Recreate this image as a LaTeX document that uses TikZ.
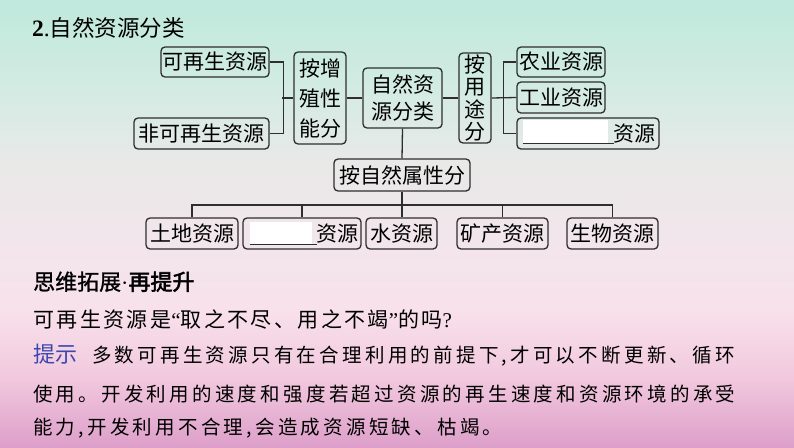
\documentclass[tikz,border=0pt]{standalone}
\usepackage{fontspec}
\newfontfamily\cjk{Noto Sans CJK SC}
\newfontfamily\cjkbold{Noto Sans CJK SC}[FakeBold=2.5]
\newfontfamily\cjkmid{Noto Sans CJK SC}[FakeBold=1]
\newfontfamily\cjkrowa{Noto Sans CJK SC}[LetterSpace=11.5]
\newfontfamily\cjkrowb{Noto Sans CJK SC}[LetterSpace=16.7]
\newfontfamily\lat{Liberation Serif}
\definecolor{lc}{HTML}{2E2E2E}
\definecolor{tipblue}{HTML}{3B47B0}
\definecolor{bgA}{HTML}{BFE9DC}
\definecolor{bgB}{HTML}{D3EBE3}
\definecolor{bgC}{HTML}{E8E9E8}
\definecolor{bgD}{HTML}{F1E6EB}
\definecolor{bgE}{HTML}{F8E1EB}
\definecolor{bgF}{HTML}{F1C7DD}
\definecolor{bgG}{HTML}{DD9FCA}
\tikzset{
  box/.style={draw=lc, line width=1.3pt, rounded corners=4pt, inner sep=0pt,
    align=center, font=\cjk\fontsize{21}{27}\selectfont},
  conn/.style={draw=lc, line width=1.3pt},
  blankfill/.style={fill=white, draw=none, inner sep=0pt},
  rowtext/.style={anchor=base west, inner sep=0pt, text=black}
}
\begin{document}
\begin{tikzpicture}[x=1pt,y=-1pt]
\useasboundingbox (0,0) rectangle (794,447);
% background
\shade[top color=bgA, bottom color=bgB] (0,0) rectangle (794,91);
\shade[top color=bgB, bottom color=bgC] (0,90) rectangle (794,161);
\shade[top color=bgC, bottom color=bgD] (0,160) rectangle (794,231);
\shade[top color=bgD, bottom color=bgE] (0,230) rectangle (794,311);
\shade[top color=bgE, bottom color=bgF] (0,310) rectangle (794,381);
\shade[top color=bgF, bottom color=bgG] (0,380) rectangle (794,447);

% title
\node[rowtext] (title) at (32,36.5) {{\lat\fontsize{23.5}{28}\selectfont\bfseries 2}{\lat\fontsize{23.5}{28}\selectfont .}{\cjk\fontsize{22.5}{28}\selectfont 自然资源分类}};

% boxes
\node[box, minimum width=108pt, minimum height=30pt] (renew) at (215,62) {可再生资源};
\node[box, minimum width=135pt, minimum height=31pt] (nonrenew) at (201.5,133.5) {非可再生资源};
\node[box, minimum width=52pt, minimum height=92pt, font=\cjk\fontsize{21}{30}\selectfont] (zengzhi) at (320,98) {按增\\殖性\\能分};
\node[box, minimum width=79pt, minimum height=60pt, font=\cjk\fontsize{21}{27}\selectfont] (root) at (402.5,98) {自然资\\源分类};
\node[box, minimum width=32pt, minimum height=90pt, font=\cjk\fontsize{21}{22.5}\selectfont] (yongtu) at (475,98) {按\\用\\途\\分};
\node[box, minimum width=88pt, minimum height=30pt] (agri) at (561,62) {农业资源};
\node[box, minimum width=88pt, minimum height=31pt] (indus) at (561,97.5) {工业资源};
\node[box, minimum width=142pt, minimum height=31pt] (blankA) at (588,133.5) {};
\node[box, minimum width=136pt, minimum height=32pt] (shuxing) at (402,175) {按自然属性分};
\node[box, minimum width=92pt, minimum height=31pt] (land) at (192,233.5) {土地资源};
\node[box, minimum width=118pt, minimum height=31pt] (blankB) at (302,233.5) {};
\node[box, minimum width=71pt, minimum height=31pt] (water) at (401.5,233.5) {水资源};
\node[box, minimum width=91pt, minimum height=31pt] (mineral) at (502.5,233.5) {矿产资源};
\node[box, minimum width=91pt, minimum height=31pt] (bio) at (612.5,233.5) {生物资源};

% blanks
\node[blankfill, minimum width=85pt, minimum height=23pt] (wA) at (565.5,131.5) {};
\draw[conn, line width=1pt] (wA.south west) -- ++(91,0);
\node[anchor=east, inner sep=0pt, font=\cjk\fontsize{21}{27}\selectfont] (tA) at ([xshift=-4pt]blankA.east) {资源};
\node[blankfill, minimum width=62pt, minimum height=23pt] (wB) at (281,233.5) {};
\draw[conn, line width=1pt] ([yshift=1pt]wB.south west) -- ++(67,0);
\node[anchor=east, inner sep=0pt, font=\cjk\fontsize{21}{27}\selectfont] (tB) at ([xshift=-3pt]blankB.east) {资源};

% connectors
\draw[conn] (renew.east) -- ++(14,0) |- (nonrenew.east);
\draw[conn] (zengzhi.west) -- ++(-11,0);
\draw[conn] (zengzhi.east) -- (root.west);
\draw[conn] (root.east) -- (yongtu.west);
\draw[conn] (agri.west) -- ++(-13,0) |- (blankA.west);
\draw[conn] (yongtu.east) -- (indus.west);
\draw[conn] (root.south) -- (shuxing.north);
\coordinate (bus) at (0,205);
\draw[conn] (shuxing.south) -- (shuxing.south |- water.north);
\draw[conn] (land.north) -- (land.north |- bus) -- (bio.north |- bus) -- (bio.north);
\draw[conn] (blankB.north) -- (blankB.north |- bus);
\draw[conn] (mineral.north) -- (mineral.north |- bus);

% text below
\node[rowtext] (head) at (33,290) {\fontsize{22}{26}\selectfont{\cjkmid 思维拓展}{\lat ·}{\cjkbold 再提升}};
\node[rowtext] (q) at (33,327) {\fontsize{21}{26}\selectfont\cjkrowa 可再生资源是{\lat “}取之不尽、用之不竭{\lat ”}的吗{\lat ?}};
\node[rowtext, text=tipblue] (tip) at (33,362) {\cjk\fontsize{22}{26}\selectfont 提示};
\node[rowtext] (a1) at (92,362) {\cjkrowb\fontsize{19.5}{26}\selectfont 多数可再生资源只有在合理利用的前提下,才可以不断更新、循环};
\node[rowtext] (a2) at (33,401.5) {\cjkrowb\fontsize{19.5}{26}\selectfont 使用。开发利用的速度和强度若超过资源的再生速度和资源环境的承受};
\node[rowtext] (a3) at (33,434.5) {\cjkrowb\fontsize{19.5}{26}\selectfont 能力,开发利用不合理,会造成资源短缺、枯竭。};
\end{tikzpicture}
\end{document}
